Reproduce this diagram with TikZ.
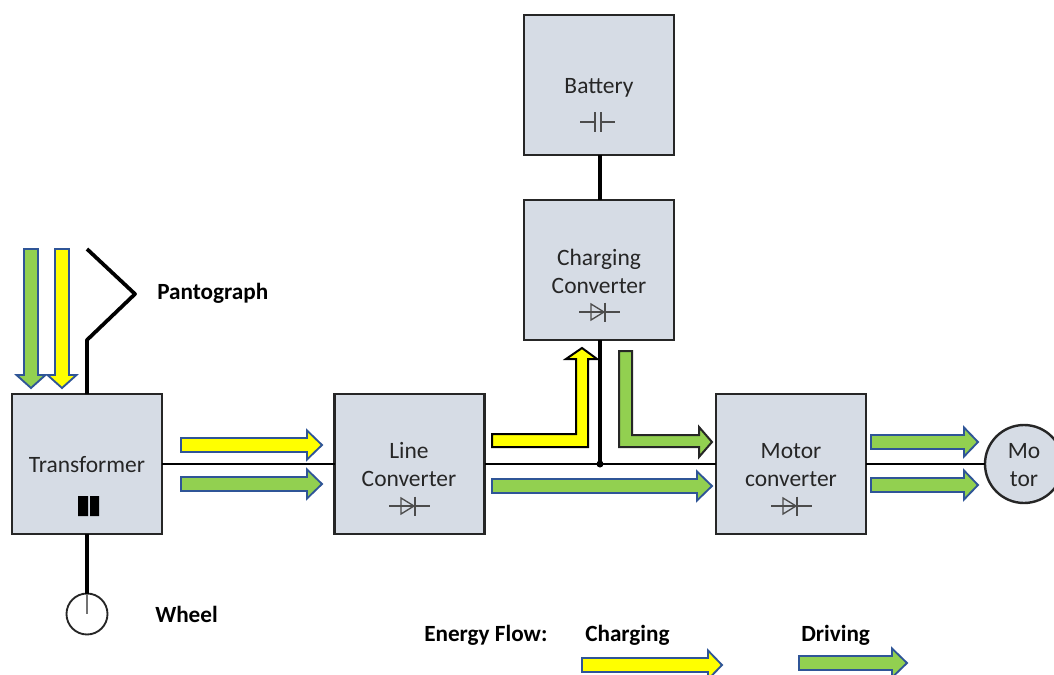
\documentclass[tikz,border=0pt]{standalone}
\usepackage{fontspec}
\setmainfont{Carlito}
\definecolor{boxfill}{HTML}{D6DCE5}
\definecolor{flowgreen}{HTML}{92D050}
\definecolor{flowyellow}{HTML}{FFFF00}
\definecolor{flowblue}{HTML}{2F5597}
\definecolor{textgrey}{HTML}{262626}
\tikzset{
  block/.style={draw=black!85,line width=1.8pt,fill=boxfill,minimum width=150*0.75pt,minimum height=140*0.75pt,inner sep=0pt,outer sep=0pt,anchor=north west},
  blocktext/.style={text=textgrey,font=\fontsize{17.6}{21}\selectfont,inner sep=0pt,align=center},
  wire/.style={draw=black,line width=2.8pt},
  thinwire/.style={draw=black,line width=2.1pt},
  label/.style={font=\fontsize{17.4}{19}\selectfont\bfseries,anchor=west,inner sep=0pt,text=black},
  symb/.style={draw=black!70,line width=1pt},
  goflow/.style={fill=flowgreen,draw=flowblue,line width=1.4pt,line join=miter},
  yeflow/.style={fill=flowyellow,draw=flowblue,line width=1.4pt,line join=miter},
  gokflow/.style={fill=flowgreen,draw=black!85,line width=1.5pt,line join=miter},
  yekflow/.style={fill=flowyellow,draw=black,line width=1.5pt,line join=miter},
}
% #1 style, #2 x start, #3 head start, #4 tip, #5 y centre
\newcommand{\rarrow}[5]{\path[#1] (#2,#5-7) -- (#3,#5-7) -- (#3,#5-14.5) -- (#4,#5) -- (#3,#5+14.5) -- (#3,#5+7) -- (#2,#5+7) -- cycle;}
% #1 style, #2 x centre, #3 y start, #4 head start, #5 tip
\newcommand{\darrow}[5]{\path[#1] (#2-7,#3) -- (#2+7,#3) -- (#2+7,#4) -- (#2+14.5,#4) -- (#2,#5) -- (#2-14.5,#4) -- (#2-7,#4) -- cycle;}
% diode centred at x,y
\newcommand{\diodesym}[2]{%
  \draw[symb] (#1-20,#2) -- (#1+21,#2);
  \draw[symb] (#1-8,#2-8) -- (#1+5,#2) -- (#1-8,#2+8) -- cycle;
  \draw[symb] (#1+6,#2-9.5) -- (#1+6,#2+9.5);}
\begin{document}
\begin{tikzpicture}[x=0.75pt,y=-0.75pt]
\useasboundingbox (0,0) rectangle (1054,675);
\begin{scope}
\clip (0,0) rectangle (1054,675);
% blocks
\node[block] (trans) at (12,394) {};
\node[block] (line) at (334.5,394) {};
\node[block] (motorc) at (716,394) {};
\node[block] (charge) at (524,200) {};
\node[block] (batt) at (524,15) {};
\node[circle,draw=black!85,line width=1.8pt,fill=boxfill,minimum size=78*0.75pt,inner sep=0pt,outer sep=0pt] (motor) at (1024,464) {};
\node[circle,draw=black!85,line width=1.4pt,minimum size=41*0.75pt,inner sep=0pt,outer sep=0pt] (wheel) at (87,614) {};
% texts in blocks
\node[blocktext] at (1024,465) {Mo\\tor};
\node[blocktext] at (87,465) {Transformer};
\node[blocktext] at (409,465) {Line\\Converter};
\node[blocktext] at (791,465) {Motor\\converter};
\node[blocktext] at (599,271) {Charging\\Converter};
\node[blocktext] at (599,88) {Battery};
% wires
\coordinate (panA) at (87,249);
\coordinate (panB) at (135,294);
\coordinate (panC) at (87,340);
\coordinate (junction) at (600,464);
\draw[wire,line join=round] (panA) -- (panB) -- (panC) -- (trans.north west -| panC);
\draw[thinwire] (trans.east) -- (line.west);
\draw[thinwire] (line.east) -- (motorc.west);
\draw[thinwire] (motorc.east) -- (motor.west);
\draw[wire] (charge.south -| junction) -- (junction);
\draw[wire] (batt.south -| junction) -- (charge.north -| junction);
\draw[wire] (trans.south) -- (wheel.north);
\draw[draw=black!55,line width=1pt] (wheel.north) -- (wheel.center);
\fill[black] (junction) circle (3.5);
% symbols
\diodesym{409}{506}
\diodesym{791}{506}
\diodesym{599}{312}
\draw[symb] (580,122) -- (595,122) (595,112) -- (595,132) (601,112) -- (601,132) (601,122) -- (615,122);
\fill[black] (78,496) rectangle (88,516) (90,496) rectangle (99,516);
% flows
\darrow{goflow}{31}{249}{375}{388}
\darrow{yeflow}{62}{249}{375}{388}
\rarrow{yeflow}{181}{307}{322}{445}
\rarrow{goflow}{181}{307}{322}{484}
\rarrow{goflow}{492}{697}{712}{486}
\rarrow{goflow}{871}{964}{978}{442}
\rarrow{goflow}{871}{964}{978}{485}
\rarrow{yeflow}{582}{708}{722}{665}
\rarrow{goflow}{799}{892}{907}{663}
\path[yekflow] (492,434) -- (576,434) -- (576,359) -- (566,359) -- (582,348) -- (597,359) -- (588,359) -- (588,447) -- (492,447) -- cycle;
\path[gokflow] (619,351) -- (632,351) -- (632,435) -- (699,435) -- (699,427) -- (712,442) -- (699,457) -- (699,447) -- (619,447) -- cycle;
% labels
\node[label] at (157,293) {Pantograph};
\node[label] at (155,614) {Wheel};
\node[label] at (424,635) {Energy Flow:};
\node[label] at (585,635) {Charging};
\node[label] at (801,635) {Driving};
\end{scope}
\end{tikzpicture}
\end{document}
